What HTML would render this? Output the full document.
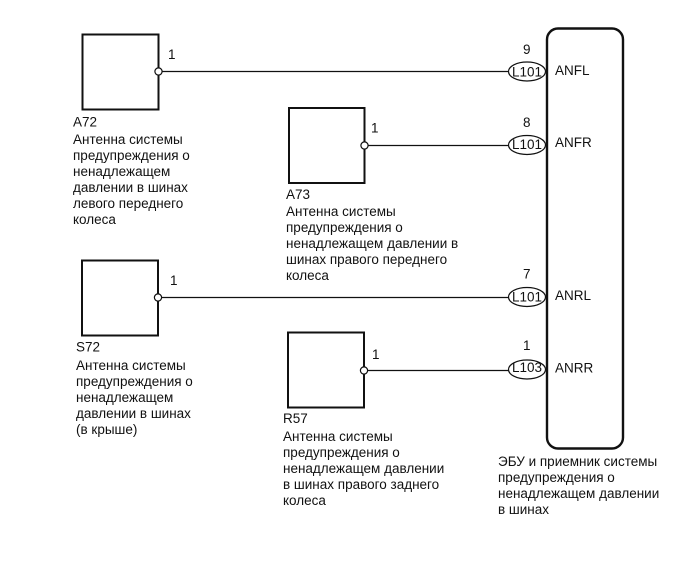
<!DOCTYPE html>
<html><head><meta charset="utf-8">
<style>
html,body{margin:0;padding:0;background:#fff;width:691px;height:562px;overflow:hidden}
svg{display:block}
text{font-family:"Liberation Sans",Arial,sans-serif;font-size:13.5px;fill:#111}
</style></head><body>
<svg width="691" height="562" viewBox="0 0 691 562" xmlns="http://www.w3.org/2000/svg">
<g fill="none" stroke="#111" stroke-width="2">
<rect x="82.5" y="34.5" width="76" height="75"/>
<rect x="289" y="108" width="75.5" height="75"/>
<rect x="82" y="260.5" width="76" height="75"/>
<rect x="288" y="332.5" width="76" height="75"/>
<rect x="547" y="28.5" width="76" height="420" rx="11" ry="11" stroke-width="2.4"/>
</g>
<g stroke="#111" stroke-width="1.2" fill="none">
<line x1="159" y1="71.5" x2="509" y2="71.5"/>
<line x1="365" y1="145.5" x2="509" y2="145.5"/>
<line x1="158" y1="297.5" x2="509" y2="297.5"/>
<line x1="364" y1="370.5" x2="509" y2="370.5"/>
</g>
<g fill="#fff" stroke="#111" stroke-width="1.2">
<circle cx="158.5" cy="71.5" r="3.6"/>
<circle cx="364.5" cy="145.5" r="3.6"/>
<circle cx="158" cy="297.5" r="3.6"/>
<circle cx="364" cy="370.5" r="3.6"/>
<ellipse cx="527" cy="71.5" rx="18.5" ry="9.5"/>
<ellipse cx="527" cy="145" rx="18.5" ry="9.5"/>
<ellipse cx="527" cy="297" rx="18.5" ry="9.5"/>
<ellipse cx="527" cy="369.5" rx="18.5" ry="9.5"/>
</g>
<text x="168" y="59">1</text>
<text x="371" y="132.5">1</text>
<text x="170" y="285">1</text>
<text x="372" y="359">1</text>
<text x="523" y="54">9</text>
<text x="523" y="127">8</text>
<text x="523" y="278.5">7</text>
<text x="523" y="350">1</text>
<text x="512" y="76.5">L101</text>
<text x="512" y="149">L101</text>
<text x="512" y="301.5">L101</text>
<text x="512" y="372">L103</text>
<text x="555" y="75">ANFL</text>
<text x="555" y="147">ANFR</text>
<text x="555" y="300">ANRL</text>
<text x="555" y="372.5">ANRR</text>
<text x="73" y="126.5">A72</text>
<text x="73" y="144">Антенна системы</text>
<text x="73" y="160">предупреждения о</text>
<text x="73" y="176">ненадлежащем</text>
<text x="73" y="192">давлении в шинах</text>
<text x="73" y="208">левого переднего</text>
<text x="73" y="224">колеса</text>
<text x="286" y="199">A73</text>
<text x="286" y="216">Антенна системы</text>
<text x="286" y="232">предупреждения о</text>
<text x="286" y="248">ненадлежащем давлении в</text>
<text x="286" y="264">шинах правого переднего</text>
<text x="286" y="280">колеса</text>
<text x="76" y="351.5">S72</text>
<text x="76" y="370">Антенна системы</text>
<text x="76" y="386">предупреждения о</text>
<text x="76" y="402">ненадлежащем</text>
<text x="76" y="418">давлении в шинах</text>
<text x="76" y="434">(в крыше)</text>
<text x="283" y="423">R57</text>
<text x="283" y="441">Антенна системы</text>
<text x="283" y="457">предупреждения о</text>
<text x="283" y="473">ненадлежащем давлении</text>
<text x="283" y="489">в шинах правого заднего</text>
<text x="283" y="505">колеса</text>
<text x="498" y="466">ЭБУ и приемник системы</text>
<text x="498" y="482">предупреждения о</text>
<text x="498" y="498">ненадлежащем давлении</text>
<text x="498" y="514">в шинах</text>
</svg>
</body></html>
